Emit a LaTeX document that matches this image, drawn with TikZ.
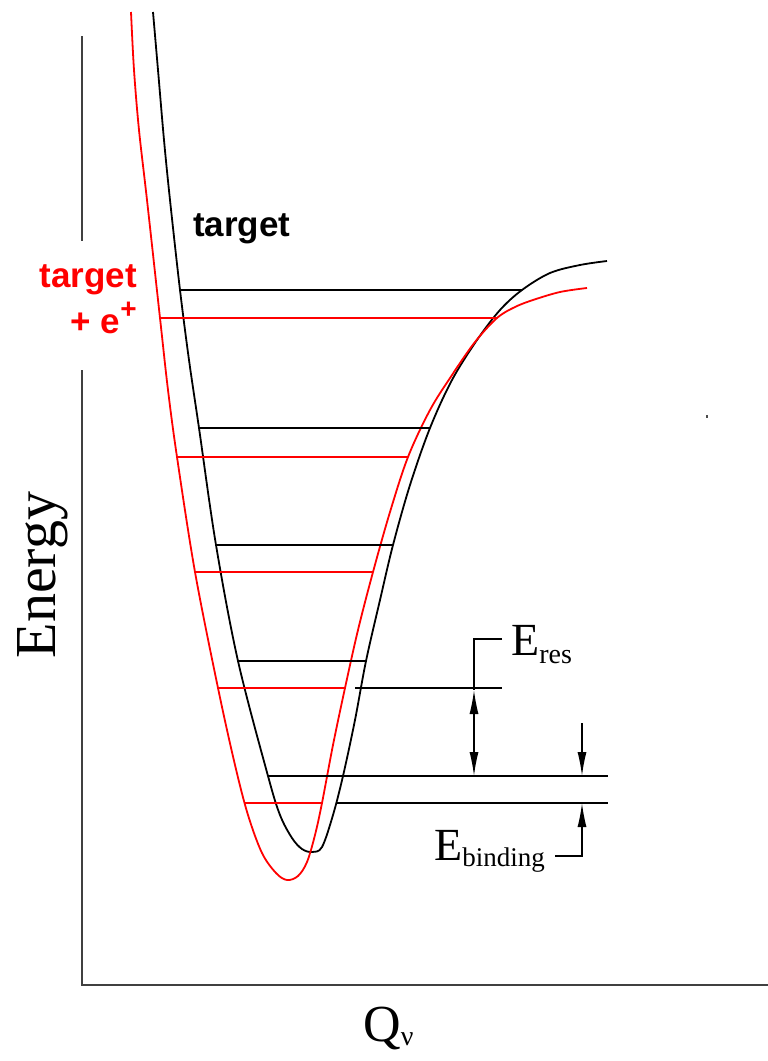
\documentclass[tikz,border=0pt]{standalone}
\usepackage{fontspec}
\setmainfont{Liberation Serif}
\newfontfamily\tgtfont{Liberation Sans}
\usetikzlibrary{arrows.meta}

\begin{document}
\begin{tikzpicture}[x=1pt, y=-1pt,
    axis/.style={draw=black!75, line width=2.6pt},
    curve/.style={line width=1.8pt, smooth, tension=0.55},
    lvl/.style={line width=1.4pt},
    dim/.style={line width=1.4pt, -{Latex[length=24pt,width=9pt]}},
    tlabel/.style={font=\tgtfont\bfseries\fontsize{35}{46}\selectfont, inner sep=0pt},
    elabel/.style={inner sep=0pt, font=\fontsize{46}{50}\selectfont}
]
    \useasboundingbox (0,0) rectangle (768,1061);

    % axes
    \draw[axis] (82,36) -- (82,241);
    \draw[axis] (82,370) |- (768,985);
    \fill[black!70] (706,415) rectangle (708,418);

    % potential curves
    \draw[curve] plot coordinates {(153,12) (158,70) (164,140) (170,200) (180,290) (189,360) (199,428) (216,545) (238,661) (268,776) (280,815) (292,838) (302,849) (312,852) (322,847) (333,815) (343,776) (355,720) (366,661) (380,600) (393,545) (410,485) (430,428) (452,380) (477,340) (500,310) (522,290) (550,273) (580,265) (607,261)};
    \draw[curve, red] plot coordinates {(131,12) (134,70) (139,130) (147,200) (160,318) (168,390) (177,457) (195,572) (218,688) (235,765) (248,815) (262,853) (276,873) (287,880) (298,876) (307,862) (315,835) (322,803) (333,745) (345,688) (358,630) (373,572) (390,512) (408,457) (430,410) (452,375) (475,342) (497,318) (515,307) (533,300) (560,292) (587,288)};

    % levels
    \draw[lvl] (180,290) -- (522,290);
    \draw[lvl] (199,428) -- (430,428);
    \draw[lvl] (216,545) -- (393,545);
    \draw[lvl] (238,661) -- (366,661);
    \draw[lvl] (268,776) -- (608,776);
    \draw[lvl] (355,688) -- (502,688);
    \draw[lvl] (336,803) -- (608,803);

    \draw[lvl, red] (160,318) -- (497,318);
    \draw[lvl, red] (177,457) -- (408,457);
    \draw[lvl, red] (195,572) -- (373,572);
    \draw[lvl, red] (218,688) -- (345,688);
    \draw[lvl, red] (245,803) -- (322,803);

    % labels
    \node[tlabel, anchor=base west] (tgt) at (193,236) {target};
    \node[tlabel, text=red, align=right, anchor=north east] (tgtpos) at (137,264) {target\\+ e\raisebox{.42em}{\fontsize{28}{28}\selectfont +}};
    \node[rotate=90, anchor=base, inner sep=0pt, font=\fontsize{58}{60}\selectfont] (elab) at (55,575) {Energy};
    \node[anchor=base west, inner sep=0pt, font=\fontsize{52}{54}\selectfont] (qlab) at (363,1041) {Q\raisebox{-4pt}{\fontsize{28}{28}\selectfont ν}};
    \node[elabel, anchor=base west] (eres) at (511,655) {E\raisebox{-8pt}{\fontsize{28}{28}\selectfont res}};
    \node[elabel, anchor=base west] (ebind) at (434,860) {E\raisebox{-6pt}{\fontsize{27}{27}\selectfont binding}};

    % dimension marks
    \coordinate (resTop) at (502,639);
    \coordinate (resA) at (474,690);
    \coordinate (resB) at (474,776);
    \draw[lvl] (resTop) -| (resA);
    \draw[lvl, {Latex[length=24pt,width=9pt]}-{Latex[length=24pt,width=9pt]}] (resA) -- (resB);

    \coordinate (bindA) at (582,723);
    \coordinate (bindB) at (582,776);
    \coordinate (bindC) at (582,803);
    \coordinate (bindLow) at (555,856);
    \draw[dim] (bindA) -- (bindB);
    \draw[dim] (bindLow) -| (bindC);
\end{tikzpicture}
\end{document}
